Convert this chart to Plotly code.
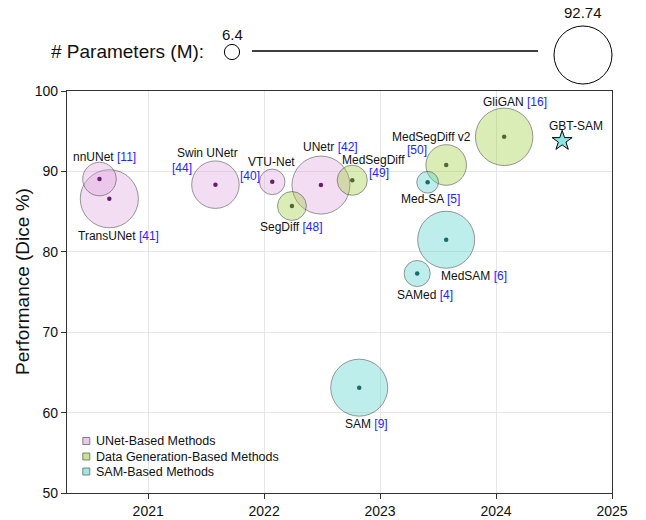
import plotly.graph_objects as go
import numpy as np

# ---------------- data ----------------
unet_names = ["TransUNet", "nnUNet", "Swin UNetr", "VTU-Net", "UNetr"]
unet_year = [2020.665, 2020.58, 2021.58, 2022.07, 2022.49]
unet_dice = [86.6, 89.05, 88.35, 88.7, 88.3]
unet_params = [93.2, 31.0, 62.2, 18.0, 92.74]

gen_names = ["SegDiff", "MedSegDiff", "MedSegDiff v2", "GliGAN"]
gen_year = [2022.24, 2022.76, 2023.57, 2024.07]
gen_dice = [85.7, 88.9, 90.8, 94.3]
gen_params = [23.0, 25.0, 45.5, 91.0]

sam_names = ["SAM", "SAMed", "Med-SA", "MedSAM"]
sam_year = [2022.82, 2023.32, 2023.41, 2023.57]
sam_dice = [63.1, 77.3, 88.65, 81.5]
sam_params = [89.6, 18.8, 13.0, 89.6]

ours_name = "GBT-SAM"
ours_year = 2024.57
ours_dice = 93.8
ours_params = 6.4

citations = {"nnUNet": "[11]", "TransUNet": "[41]", "Swin UNetr": "[44]", "VTU-Net": "[40]",
             "UNetr": "[42]", "SegDiff": "[48]", "MedSegDiff": "[49]", "MedSegDiff v2": "[50]",
             "GliGAN": "[16]", "SAM": "[9]", "SAMed": "[4]", "Med-SA": "[5]", "MedSAM": "[6]"}

legend_names = ["UNet-Based Methods", "Data Generation-Based Methods", "SAM-Based Methods"]
size_legend_values = [6.4, 92.74]

xtick_vals = [2021, 2022, 2023, 2024, 2025]
ytick_vals = [50, 60, 70, 80, 90, 100]

# ---------------- style ----------------
W, H = 646, 520
FONT = "Liberation Sans, Arial, sans-serif"
CITE = "#2424ff"
D_MAX = 58.0
P_MAX = max(size_legend_values)


def diam(p):
    return D_MAX * np.sqrt(np.asarray(p, dtype=float) / P_MAX)


def px(X):
    return X / W


def py(Y):
    return 1 - Y / H


fills = ["rgba(221,160,221,0.5)", "rgba(154,205,50,0.5)", "rgba(72,209,204,0.5)"]
dots = ["#6e1a6e", "#56663a", "#156c68"]
edge = "rgba(60,60,60,0.75)"

# label layout offsets (px, dx right, dy down): name, and optional separate citation
name_off = {"nnUNet": (5, -22), "TransUNet": (9, 37), "Swin UNetr": (-7.6, -31.4),
            "VTU-Net": (-1, -19.5), "UNetr": (10, -37.6), "SegDiff": (-1, 20.7),
            "MedSegDiff": (21.5, -20.5), "MedSegDiff v2": (-14.5, -27.6), "GliGAN": (11.3, -35.3),
            "SAM": (7.5, 36.6), "SAMed": (8, 21.3), "Med-SA": (3, 17), "MedSAM": (27.8, 36),
            "GBT-SAM": (14, -15)}
cite_off = {"Swin UNetr": (-33, -16.4), "VTU-Net": (-22.5, -6), "MedSegDiff": (27, -7),
            "MedSegDiff v2": (-29, -15)}

fig = go.Figure()

groups = [(unet_names, unet_year, unet_dice, unet_params),
          (gen_names, gen_year, gen_dice, gen_params),
          (sam_names, sam_year, sam_dice, sam_params)]

for gi, (nm, xs, ys, ps) in enumerate(groups):
    fig.add_trace(go.Scatter(x=xs, y=ys, mode="markers", showlegend=False, hoverinfo="skip",
                             marker=dict(size=diam(ps), color=fills[gi], sizemode="diameter",
                                         line=dict(color=edge, width=1))))
for gi, (nm, xs, ys, ps) in enumerate(groups):
    fig.add_trace(go.Scatter(x=xs, y=ys, mode="markers", showlegend=False, hoverinfo="skip",
                             marker=dict(size=4.5, color=dots[gi], line=dict(width=0))))

fig.add_trace(go.Scatter(x=[ours_year], y=[ours_dice], mode="markers", showlegend=False,
                         hoverinfo="skip",
                         marker=dict(symbol="star", size=15, color="#8ae5e5",
                                     line=dict(color="black", width=1))))

annotations = []
all_pts = []
for nm, xs, ys, ps in groups:
    for n, x, y in zip(nm, xs, ys):
        all_pts.append((n, x, y))
all_pts.append((ours_name, ours_year, ours_dice))

for n, x, y in all_pts:
    dx, dy = name_off[n]
    c = citations.get(n)
    if c and n not in cite_off:
        txt = f"{n} <span style='color:{CITE}'>{c}</span>"
    else:
        txt = n
    annotations.append(dict(x=x, y=y, xref="x", yref="y", text=txt, showarrow=False,
                            xshift=dx, yshift=-dy, xanchor="center", yanchor="middle",
                            borderpad=0, font=dict(size=12, color="#111", family=FONT)))
    if n in cite_off:
        cdx, cdy = cite_off[n]
        annotations.append(dict(x=x, y=y, xref="x", yref="y", text=c, showarrow=False,
                                xshift=cdx, yshift=-cdy, xanchor="center", yanchor="middle",
                                borderpad=0, font=dict(size=12, color=CITE, family=FONT)))

# y-axis title
annotations.append(dict(x=px(22), y=py(282), xref="paper", yref="paper",
                        text="Performance (Dice %)", textangle=-90, showarrow=False,
                        xanchor="center", yanchor="middle", borderpad=0,
                        font=dict(size=19, color="#111", family=FONT)))

shapes = []

# group legend (custom, bottom-left inside plot)
leg_fill = ["#e9c9e9", "#c9e28f", "#a2e6e2"]
leg_y = [441, 456.5, 471.5]
for i, lab in enumerate(legend_names):
    cx, cy, s = 86.3, leg_y[i], 7
    shapes.append(dict(type="rect", xref="paper", yref="paper", x0=px(cx - s / 2), x1=px(cx + s / 2),
                       y0=py(cy + s / 2), y1=py(cy - s / 2), fillcolor=leg_fill[i],
                       line=dict(color="#666", width=0.8)))
    annotations.append(dict(x=px(93.5), y=py(cy), xref="paper", yref="paper", text=lab,
                            showarrow=False, xanchor="left", yanchor="middle",
                            font=dict(size=12.5, color="#111", family=FONT)))

# size legend (top)
d_small, d_big = diam(size_legend_values)
small_c = (232, 52)
big_c = (583, 55)
for (cx, cy), d in [(small_c, d_small), (big_c, d_big)]:
    shapes.append(dict(type="circle", xref="paper", yref="paper", x0=px(cx - d / 2), x1=px(cx + d / 2),
                       y0=py(cy + d / 2), y1=py(cy - d / 2), fillcolor="white",
                       line=dict(color="black", width=1)))
shapes.append(dict(type="line", xref="paper", yref="paper", x0=px(252), x1=px(538),
                   y0=py(51), y1=py(51), line=dict(color="black", width=1.5)))
annotations.append(dict(x=px(206), y=py(52), xref="paper", yref="paper", text="# Parameters (M):",
                        showarrow=False, xanchor="right", yanchor="middle",
                        font=dict(size=19, color="#111", family=FONT)))
annotations.append(dict(x=px(small_c[0]), y=py(35), xref="paper", yref="paper",
                        text=f"{size_legend_values[0]:g}", showarrow=False, xanchor="center",
                        yanchor="middle", font=dict(size=15, color="#111", family=FONT)))
annotations.append(dict(x=px(big_c[0]), y=py(12), xref="paper", yref="paper",
                        text=f"{size_legend_values[1]:g}", showarrow=False, xanchor="center",
                        yanchor="middle", font=dict(size=15, color="#111", family=FONT)))

axis_common = dict(showgrid=True, gridcolor="#e6e6e6", gridwidth=1, zeroline=False,
                   showline=True, linecolor="#333", linewidth=1.3, mirror=True,
                   ticks="outside", ticklen=5, tickcolor="#333", tickwidth=1, automargin=False,
                   tickfont=dict(size=14, color="#111", family=FONT))

fig.update_layout(
    width=W, height=H, margin=dict(l=0, r=0, t=0, b=0, pad=0, autoexpand=False),
    paper_bgcolor="white", plot_bgcolor="white", showlegend=False,
    font=dict(family=FONT),
    xaxis=dict(range=[2020.3, 2025], tickvals=xtick_vals, domain=[px(67), px(612)], **axis_common),
    yaxis=dict(range=[50, 100], tickvals=ytick_vals, domain=[py(493), py(91)], **axis_common),
    annotations=annotations, shapes=shapes,
)

fig.write_html(
    "out.html",
    config={"displayModeBar": False},
    post_script=(
        "document.documentElement.style.margin='0';"
        "document.documentElement.style.padding='0';"
        "document.documentElement.style.overflow='hidden';"
        "document.body.style.margin='0';"
        "document.body.style.padding='0';"
        "document.body.style.overflow='hidden';"
    ),
)
